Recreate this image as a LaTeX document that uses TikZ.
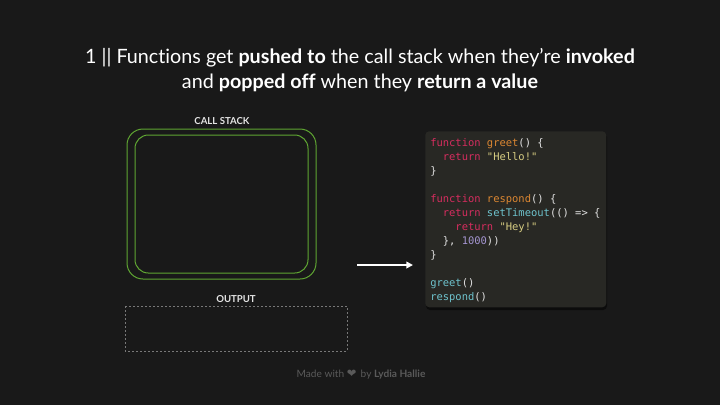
\documentclass[tikz,border=0pt]{standalone}
\usepackage{fontspec}
\setmainfont{Lato}[Ligatures={TeX,NoCommon}]
\newfontfamily\codefont{DejaVu Sans Mono}
\newfontfamily\symfont{DejaVu Sans}
\usetikzlibrary{arrows.meta}

\definecolor{bgdark}{RGB}{25,25,25}
\definecolor{codebg}{RGB}{40,40,36}
\definecolor{stackgreen}{RGB}{95,165,50}
\definecolor{outgrey}{RGB}{120,120,120}
\definecolor{footgrey}{RGB}{90,90,90}
\definecolor{kwpink}{RGB}{215,45,95}
\definecolor{fnorange}{RGB}{220,135,50}
\definecolor{stryellow}{RGB}{215,205,130}
\definecolor{callteal}{RGB}{110,195,205}
\definecolor{numpurple}{RGB}{165,150,210}
\definecolor{punctwhite}{RGB}{225,225,225}

\newcommand{\kw}[1]{\textcolor{kwpink}{#1}}
\newcommand{\fn}[1]{\textcolor{fnorange}{#1}}
\newcommand{\str}[1]{\textcolor{stryellow}{#1}}
\newcommand{\call}[1]{\textcolor{callteal}{#1}}
\newcommand{\num}[1]{\textcolor{numpurple}{#1}}
\newcommand{\ind}{\phantom{xx}}

\tikzset{
  titletext/.style={anchor=base,inner sep=0pt,text=white,font=\fontsize{14.8pt}{17pt}\selectfont},
  boxlabel/.style={anchor=base,inner sep=0pt,text=white!90!black,font=\fontsize{7.2pt}{9pt}\selectfont\bfseries},
  codeline/.style={anchor=base west,inner sep=0pt,text=punctwhite,font=\codefont\fontsize{7.85pt}{10pt}\selectfont},
  stackframe/.style={draw=stackgreen,line width=0.75pt},
}

\begin{document}
\begin{tikzpicture}[x=0.75pt,y=0.75pt,yscale=-1,xscale=1]
\useasboundingbox (0,0) rectangle (720,405);
\fill[bgdark] (0,0) rectangle (720,405);

% Title
\node[titletext] (title1) at (360,63) {1 || Functions get \textbf{pushed to} the call stack when they’re \textbf{invoked}};
\node[titletext] (title2) at (360,88) {and \textbf{popped off} when they \textbf{return a value}};

% Call stack
\node[boxlabel] (stacklabel) at (222,124) {CALL STACK};
\draw[stackframe,rounded corners=12] (127,129) rectangle (316,279);
\draw[stackframe,rounded corners=10] (135,135) rectangle (308,273);

% Output
\node[boxlabel] (outlabel) at (236,302) {OUTPUT};
\draw[outgrey,dash pattern=on 1.5pt off 1.5pt,line width=0.5pt] (125,306) rectangle (347,351);

% Code panel
\fill[black,opacity=0.5,rounded corners=3] (426,133) rectangle (607,310);
\node[fill=codebg,rounded corners=3,minimum width=135.75pt,minimum height=132pt,anchor=north west,inner sep=0pt] (codebox) at (425,131) {};

\node[codeline] (line1) at (430,146) {\kw{function} \fn{greet}() \{};
\node[codeline] (line2) at (430,160) {\ind\kw{return} \str{"Hello!"}};
\node[codeline] (line3) at (430,174) {\}};
\node[codeline] (line5) at (430,202) {\kw{function} \fn{respond}() \{};
\node[codeline] (line6) at (430,216) {\ind\kw{return} \call{setTimeout}(() => \{};
\node[codeline] (line7) at (430,230) {\ind\ind\kw{return} \str{"Hey!"}};
\node[codeline] (line8) at (430,244) {\ind\}, \num{1000}))};
\node[codeline] (line9) at (430,258) {\}};
\node[codeline] (line11) at (430,286) {\call{greet}()};
\node[codeline] (line12) at (430,300) {\call{respond}()};

% Arrow
\coordinate (arrowtail) at (357,265);
\draw[white,line width=1.5pt,-{Triangle[length=5pt,width=5pt]}] (arrowtail) -- ([xshift=-9]codebox.west |- arrowtail);

% Footer
\node[anchor=base,inner sep=0pt,text=footgrey,font=\fontsize{7.6pt}{9pt}\selectfont] (footer) at (361,377) {Made with {\symfont\fontsize{8.6pt}{9pt}\selectfont ❤}\, by \textbf{Lydia Hallie}};

\end{tikzpicture}
\end{document}
